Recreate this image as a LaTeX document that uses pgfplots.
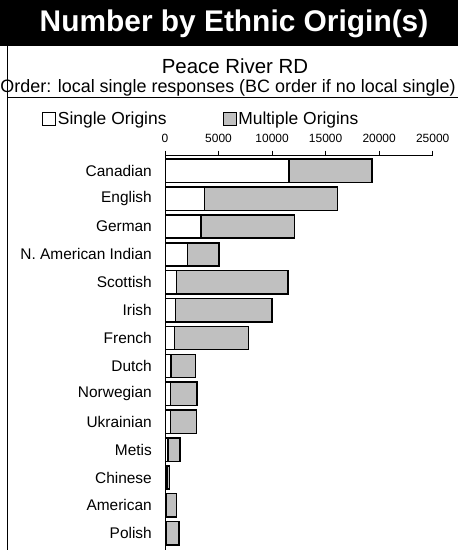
\documentclass[border=0pt]{standalone}
\usepackage{pgfplots}
\pgfplotsset{compat=1.18}
\usepackage{pgfplotstable}
\usepackage{fontspec}
\setmainfont{Liberation Sans}
\definecolor{multgray}{HTML}{C0C0C0}

\pgfplotstableread{
idx single multiple
13 11600 7730
12 3670 12430
11 3360 8740
10 2080 2960
9 1060 10440
8 1000 9000
7 870 6910
6 560 2270
5 530 2460
4 530 2430
3 280 1120
2 200 200
1 160 930
0 160 1150
}\ethnic

\begin{document}
\begin{tikzpicture}
\useasboundingbox (0,0) rectangle (458bp,550bp);
\fill[black] (0,504bp) rectangle (458bp,550bp);
\node[white, font=\fontsize{30}{30}\selectfont\bfseries, inner sep=0pt] at (234bp,526bp) {Number by Ethnic Origin(s)};
\node[anchor=base, inner sep=0pt, font=\fontsize{20.5}{20.5}\selectfont] at (235bp,476bp) {Peace River RD};
\node[anchor=base, inner sep=0pt, font=\fontsize{18}{18}\selectfont] at (228bp,457.3bp) {Order: local single responses (BC order if no local single)};
\draw[line width=1bp] (7bp,504bp) -- (7bp,0bp);
\draw[line width=1bp] (7bp,452.5bp) -- (458bp,452.5bp);
\begin{axis}[
  at={(165bp,0bp)}, anchor=south west,
  scale only axis, width=267.7bp, height=394.3bp,
  xbar stacked, bar width=23.3bp,
  xmin=0, xmax=25000, ymin=-0.6, ymax=13.54,
  axis x line*=top, axis y line*=left,
  axis line style={black, line width=1bp},
  xtick={0,5000,10000,15000,20000,25000},
  scaled x ticks=false,
  /pgf/number format/1000 sep={},
  /pgf/number format/assume math mode=true,
  xticklabel style={font=\fontsize{12}{12}\selectfont, inner sep=0pt, yshift=8bp},
  tick align=outside, major tick length=5bp,
  x tick style={black, line width=0.8bp},
  y tick style={draw=none},
  ytick={0,...,13},
  yticklabels={Polish,American,Chinese,Metis,Ukrainian,Norwegian,Dutch,French,Irish,Scottish,N. American Indian,German,English,Canadian},
  yticklabel style={font=\fontsize{15.5}{15.5}\selectfont, inner sep=0pt, xshift=-8bp},
  legend image code/.code={\draw[#1, line width=0.8bp] (0bp,-6.5bp) rectangle (13bp,6.5bp);},
  legend columns=2,
  legend style={at={(-0.4595,1.093)}, anchor=west, draw=none, fill=none, inner sep=0pt,
    font=\fontsize{17.5}{17.5}\selectfont,
    /tikz/every even column/.append style={column sep=54bp}},
]
\addplot[draw=black, line width=1.5bp, fill=white] table[x=single, y=idx] {\ethnic};
\addlegendentry{Single Origins}
\addplot[draw=black, line width=1.5bp, fill=multgray] table[x=multiple, y=idx] {\ethnic};
\addlegendentry{Multiple Origins}
\end{axis}
\end{tikzpicture}
\end{document}
